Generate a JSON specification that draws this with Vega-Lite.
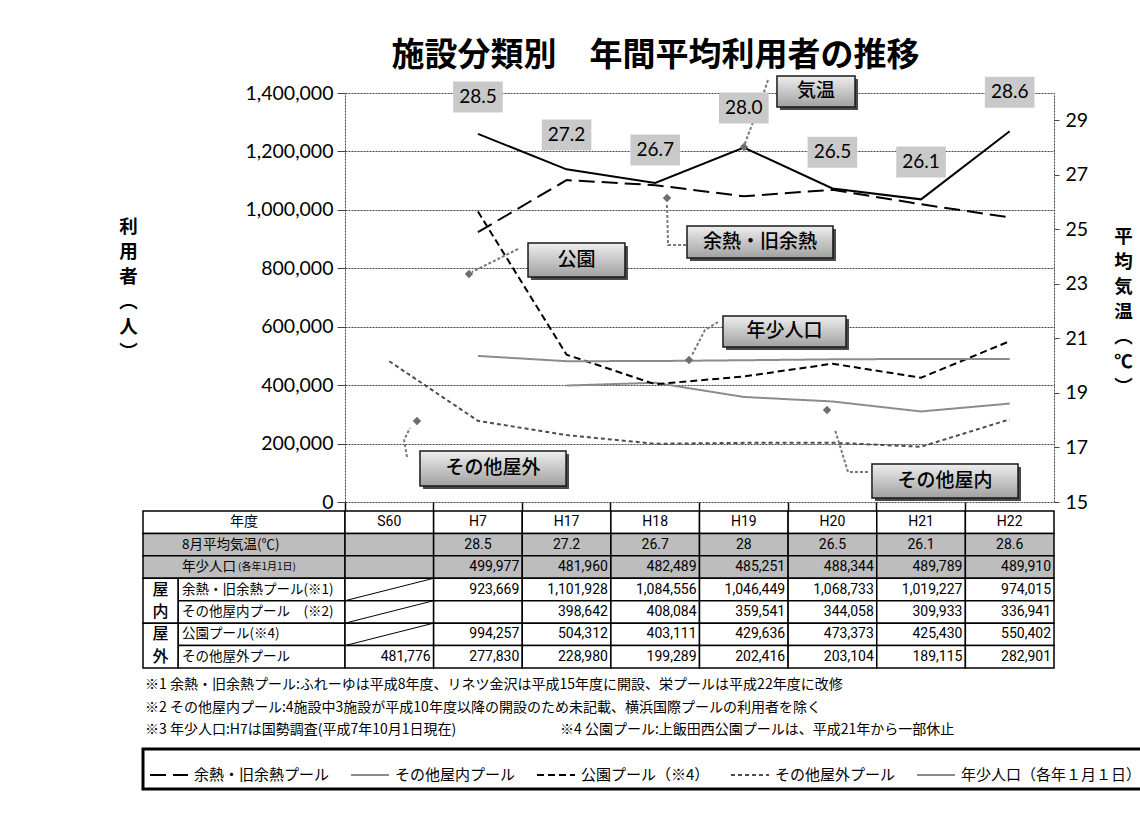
{
"$schema":"https://vega.github.io/schema/vega-lite/v6.json",
"autosize":{"type":"none"},
"padding":{"left":345,"top":93,"right":795,"bottom":727},
"background":"white",
"bounds":"flush",
"spacing":9,
"config":{"view":{"stroke":null},"font":"Noto Sans CJK JP"},
"datasets":{
"series":[
{"series":"余熱・旧余熱プール","year":"H7","value":923669},
{"series":"余熱・旧余熱プール","year":"H17","value":1101928},
{"series":"余熱・旧余熱プール","year":"H18","value":1084556},
{"series":"余熱・旧余熱プール","year":"H19","value":1046449},
{"series":"余熱・旧余熱プール","year":"H20","value":1068733},
{"series":"余熱・旧余熱プール","year":"H21","value":1019227},
{"series":"余熱・旧余熱プール","year":"H22","value":974015},
{"series":"その他屋内プール","year":"H17","value":398642},
{"series":"その他屋内プール","year":"H18","value":408084},
{"series":"その他屋内プール","year":"H19","value":359541},
{"series":"その他屋内プール","year":"H20","value":344058},
{"series":"その他屋内プール","year":"H21","value":309933},
{"series":"その他屋内プール","year":"H22","value":336941},
{"series":"公園プール（※4）","year":"H7","value":994257},
{"series":"公園プール（※4）","year":"H17","value":504312},
{"series":"公園プール（※4）","year":"H18","value":403111},
{"series":"公園プール（※4）","year":"H19","value":429636},
{"series":"公園プール（※4）","year":"H20","value":473373},
{"series":"公園プール（※4）","year":"H21","value":425430},
{"series":"公園プール（※4）","year":"H22","value":550402},
{"series":"その他屋外プール","year":"S60","value":481776},
{"series":"その他屋外プール","year":"H7","value":277830},
{"series":"その他屋外プール","year":"H17","value":228980},
{"series":"その他屋外プール","year":"H18","value":199289},
{"series":"その他屋外プール","year":"H19","value":202416},
{"series":"その他屋外プール","year":"H20","value":203104},
{"series":"その他屋外プール","year":"H21","value":189115},
{"series":"その他屋外プール","year":"H22","value":282901},
{"series":"年少人口（各年１月１日）","year":"H7","value":499977},
{"series":"年少人口（各年１月１日）","year":"H17","value":481960},
{"series":"年少人口（各年１月１日）","year":"H18","value":482489},
{"series":"年少人口（各年１月１日）","year":"H19","value":485251},
{"series":"年少人口（各年１月１日）","year":"H20","value":488344},
{"series":"年少人口（各年１月１日）","year":"H21","value":489789},
{"series":"年少人口（各年１月１日）","year":"H22","value":489910}
],
"temp":[
{"year":"H7","temp":28.5},{"year":"H17","temp":27.2},{"year":"H18","temp":26.7},{"year":"H19","temp":28.0},{"year":"H20","temp":26.5},{"year":"H21","temp":26.1},{"year":"H22","temp":28.6}
],
"templabels":[
{"year":"H7","ly":29.85,"text":"28.5"},
{"year":"H17","ly":28.46,"text":"27.2"},
{"year":"H18","ly":27.91,"text":"26.7"},
{"year":"H19","ly":29.45,"text":"28.0"},
{"year":"H20","ly":27.83,"text":"26.5"},
{"year":"H21","ly":27.47,"text":"26.1"},
{"year":"H22","ly":30.03,"text":"28.6"}
],
"callouts":[
{"label":"気温","u1":4.874,"u2":5.755,"v1":1352085,"v2":1458198,"u":5.314,"v":1405141},
{"label":"余熱・旧余熱","u1":3.859,"u2":5.506,"v1":835212,"v2":944748,"u":4.683,"v":889980},
{"label":"公園","u1":2.065,"u2":3.159,"v1":770175,"v2":886557,"u":2.612,"v":828366},
{"label":"年少人口","u1":4.265,"u2":5.653,"v1":530565,"v2":636678,"u":4.959,"v":583622},
{"label":"その他屋外","u1":0.846,"u2":2.494,"v1":54768,"v2":174573,"u":1.670,"v":114670},
{"label":"その他屋内","u1":5.946,"u2":7.594,"v1":13692,"v2":130074,"u":6.770,"v":71883}
],
"arrows":[
{"arrow":"気温","i":0,"u":4.773,"v":1444500},
{"arrow":"気温","i":1,"u":4.660,"v":1341800},
{"arrow":"気温","i":2,"u":4.570,"v":1273400},
{"arrow":"気温","i":3,"u":4.502,"v":1218600},
{"arrow":"余熱","i":0,"u":3.848,"v":879700},
{"arrow":"余熱","i":1,"u":3.645,"v":879700},
{"arrow":"余熱","i":2,"u":3.633,"v":1016600},
{"arrow":"公園","i":0,"u":1.952,"v":866000},
{"arrow":"公園","i":1,"u":1.433,"v":787300},
{"arrow":"年少人口","i":0,"u":4.209,"v":616100},
{"arrow":"年少人口","i":1,"u":4.062,"v":588800},
{"arrow":"年少人口","i":2,"u":3.915,"v":503200},
{"arrow":"屋外","i":0,"u":0.700,"v":154000},
{"arrow":"屋外","i":1,"u":0.666,"v":212200},
{"arrow":"屋外","i":2,"u":0.733,"v":253300},
{"arrow":"屋内","i":0,"u":5.901,"v":102700},
{"arrow":"屋内","i":1,"u":5.676,"v":102700},
{"arrow":"屋内","i":2,"u":5.529,"v":246500}
],
"heads":[
{"arrow":"気温","u":4.502,"v":1215000},
{"arrow":"余熱","u":3.633,"v":1040600},
{"arrow":"公園","u":1.399,"v":780400},
{"arrow":"年少人口","u":3.882,"v":486100},
{"arrow":"屋外","u":0.812,"v":277300},
{"arrow":"屋内","u":5.439,"v":314900}
],
"table":[
{"row":"年度","year":"S60","text":"S60"},{"row":"年度","year":"H7","text":"H7"},{"row":"年度","year":"H17","text":"H17"},{"row":"年度","year":"H18","text":"H18"},{"row":"年度","year":"H19","text":"H19"},{"row":"年度","year":"H20","text":"H20"},{"row":"年度","year":"H21","text":"H21"},{"row":"年度","year":"H22","text":"H22"},
{"row":"気温","year":"S60","text":""},{"row":"気温","year":"H7","text":"28.5"},{"row":"気温","year":"H17","text":"27.2"},{"row":"気温","year":"H18","text":"26.7"},{"row":"気温","year":"H19","text":"28"},{"row":"気温","year":"H20","text":"26.5"},{"row":"気温","year":"H21","text":"26.1"},{"row":"気温","year":"H22","text":"28.6"},
{"row":"人口","year":"S60","text":""},{"row":"人口","year":"H7","text":"499,977"},{"row":"人口","year":"H17","text":"481,960"},{"row":"人口","year":"H18","text":"482,489"},{"row":"人口","year":"H19","text":"485,251"},{"row":"人口","year":"H20","text":"488,344"},{"row":"人口","year":"H21","text":"489,789"},{"row":"人口","year":"H22","text":"489,910"},
{"row":"余熱","year":"S60","text":""},{"row":"余熱","year":"H7","text":"923,669"},{"row":"余熱","year":"H17","text":"1,101,928"},{"row":"余熱","year":"H18","text":"1,084,556"},{"row":"余熱","year":"H19","text":"1,046,449"},{"row":"余熱","year":"H20","text":"1,068,733"},{"row":"余熱","year":"H21","text":"1,019,227"},{"row":"余熱","year":"H22","text":"974,015"},
{"row":"屋内","year":"S60","text":""},{"row":"屋内","year":"H7","text":""},{"row":"屋内","year":"H17","text":"398,642"},{"row":"屋内","year":"H18","text":"408,084"},{"row":"屋内","year":"H19","text":"359,541"},{"row":"屋内","year":"H20","text":"344,058"},{"row":"屋内","year":"H21","text":"309,933"},{"row":"屋内","year":"H22","text":"336,941"},
{"row":"公園","year":"S60","text":""},{"row":"公園","year":"H7","text":"994,257"},{"row":"公園","year":"H17","text":"504,312"},{"row":"公園","year":"H18","text":"403,111"},{"row":"公園","year":"H19","text":"429,636"},{"row":"公園","year":"H20","text":"473,373"},{"row":"公園","year":"H21","text":"425,430"},{"row":"公園","year":"H22","text":"550,402"},
{"row":"屋外","year":"S60","text":"481,776"},{"row":"屋外","year":"H7","text":"277,830"},{"row":"屋外","year":"H17","text":"228,980"},{"row":"屋外","year":"H18","text":"199,289"},{"row":"屋外","year":"H19","text":"202,416"},{"row":"屋外","year":"H20","text":"203,104"},{"row":"屋外","year":"H21","text":"189,115"},{"row":"屋外","year":"H22","text":"282,901"}
],
"rowlabels":[
{"row":"年度","label":"年度"},
{"row":"気温","label":"8月平均気温(℃)"},
{"row":"人口","label":"年少人口","sub":"(各年1月1日)"},
{"row":"余熱","label":"余熱・旧余熱プール(※1)"},
{"row":"屋内","label":"その他屋内プール　(※2)"},
{"row":"公園","label":"公園プール(※4)"},
{"row":"屋外","label":"その他屋外プール"}
],
"groups":[
{"grp":"屋内","text":"屋\n内"},
{"grp":"屋外","text":"屋\n外"}
],
"notes":[
{"line":1,"part":"a","text":"※1  余熱・旧余熱プール:ふれーゆは平成8年度、リネツ金沢は平成15年度に開設、栄プールは平成22年度に改修"},
{"line":2,"part":"a","text":"※2  その他屋内プール:4施設中3施設が平成10年度以降の開設のため未記載、横浜国際プールの利用者を除く"},
{"line":3,"part":"a","text":"※3  年少人口:H7は国勢調査(平成7年10月1日現在)"},
{"line":3,"part":"b","text":"※4  公園プール:上飯田西公園プールは、平成21年から一部休止"}
]
},
"vconcat":[
{
"width":709,"height":409,
"title":{"text":"施設分類別　年間平均利用者の推移","font":"Noto Sans CJK JP","fontSize":33,"fontWeight":"bold","color":"black","anchor":"middle","frame":"group","dx":-44,"offset":2},
"layer":[
{"data":{"name":"series"},
 "mark":{"type":"line","strokeWidth":2},
 "encoding":{
  "x":{"field":"year","type":"nominal","scale":{"type":"band","domain":["S60","H7","H17","H18","H19","H20","H21","H22"],"paddingInner":0,"paddingOuter":0},
       "axis":{"orient":"bottom","bandPosition":0,"labels":false,"domain":false,"ticks":true,"tickSize":9,"tickColor":"black","tickWidth":1.5,"title":null,"grid":false}},
  "y":{"field":"value","type":"quantitative","scale":{"domain":[0,1400000],"nice":false,"zero":true},
       "axis":{"orient":"left","values":[0,200000,400000,600000,800000,1000000,1200000,1400000],"format":",.0f","labelFont":"Lato","labelFontSize":19.5,"labelColor":"black","labelPadding":4,"tickSize":8,"tickColor":"#444","domainColor":"#444","domainDash":[2,1],"grid":true,"gridColor":"#444","gridDash":[2,1],"gridWidth":1.2,
               "title":["利","用","者","︵","人","︶"],"titleAngle":0,"titleFont":"Noto Sans CJK JP","titleFontSize":18.5,"titleFontWeight":"bold","titleColor":"black","titleAlign":"center","titleBaseline":"top","titleX":-217,"titleY":124,"titleLineHeight":25}},
  "color":{"field":"series","type":"nominal","scale":{"domain":["余熱・旧余熱プール","その他屋内プール","公園プール（※4）","その他屋外プール","年少人口（各年１月１日）"],"range":["#000000","#8c8c8c","#000000","#4d4d4d","#8c8c8c"]},
       "legend":{"orient":"none","legendX":-202,"legendY":656,"direction":"horizontal","title":null,"symbolType":"stroke","symbolSize":1444,"symbolStrokeWidth":2,"labelFont":"Noto Sans CJK JP","labelFontSize":15,"labelColor":"black","labelLimit":400,"padding":6,"strokeColor":"black","columnPadding":17,"labelOffset":5,"encode":{"legend":{"update":{"strokeWidth":{"value":3}}}}}},
  "strokeDash":{"field":"series","type":"nominal","scale":{"domain":["余熱・旧余熱プール","その他屋内プール","公園プール（※4）","その他屋外プール","年少人口（各年１月１日）"],"range":[[16,7],[1,0],[7,4],[4,3],[1,0]]},
       "legend":{"orient":"none","legendX":-202,"legendY":656,"direction":"horizontal","title":null,"symbolType":"stroke","symbolSize":1444,"symbolStrokeWidth":2,"labelFont":"Noto Sans CJK JP","labelFontSize":15,"labelColor":"black","labelLimit":400,"padding":6,"strokeColor":"black","columnPadding":17,"labelOffset":5,"encode":{"legend":{"update":{"strokeWidth":{"value":3}}}}}},
  "order":{"value":null}
 }},
{"data":{"name":"temp"},
 "mark":{"type":"line","color":"black","strokeWidth":2},
 "encoding":{
  "x":{"field":"year","type":"nominal","scale":{"type":"band","domain":["S60","H7","H17","H18","H19","H20","H21","H22"],"paddingInner":0,"paddingOuter":0},"axis":null},
  "y":{"field":"temp","type":"quantitative","scale":{"domain":[15,30],"nice":false,"zero":false},
       "axis":{"orient":"right","values":[15,17,19,21,23,25,27,29],"labelFont":"Lato","labelFontSize":19.5,"labelColor":"black","labelPadding":6,"tickSize":5,"tickColor":"#444","domainColor":"#444","domainDash":[2,1],"grid":false,
               "title":["平","均","気","温","︵","℃","︶"],"titleAngle":0,"titleFont":"Noto Sans CJK JP","titleFontSize":18.5,"titleFontWeight":"bold","titleColor":"black","titleAlign":"center","titleBaseline":"top","titleX":69,"titleY":134,"titleLineHeight":25}},
  "order":{"value":null}
 }},
{"data":{"name":"arrows"},
 "mark":{"type":"line","stroke":"#7a7a7a","strokeWidth":2,"strokeDash":[3,2]},
 "encoding":{
  "x":{"field":"u","type":"quantitative","scale":{"domain":[0,8],"nice":false,"zero":false},"axis":null},
  "y":{"field":"v","type":"quantitative","scale":{"domain":[0,1400000],"nice":false},"axis":null},
  "detail":{"field":"arrow"},
  "order":{"field":"i"}
 }},
{"data":{"name":"heads"},
 "mark":{"type":"point","shape":"diamond","size":70,"filled":true,"color":"#6e6e6e","opacity":1},
 "encoding":{
  "x":{"field":"u","type":"quantitative","scale":{"domain":[0,8],"nice":false,"zero":false},"axis":null},
  "y":{"field":"v","type":"quantitative","scale":{"domain":[0,1400000],"nice":false},"axis":null}
 }},
{"data":{"name":"callouts"},
 "mark":{"type":"rect","fill":"#4a4a4a","xOffset":3,"yOffset":3,"x2Offset":3,"y2Offset":3},
 "encoding":{
  "x":{"field":"u1","type":"quantitative","scale":{"domain":[0,8],"nice":false,"zero":false},"axis":null},"x2":{"field":"u2"},
  "y":{"field":"v1","type":"quantitative","scale":{"domain":[0,1400000],"nice":false},"axis":null},"y2":{"field":"v2"}
 }},
{"data":{"name":"callouts"},
 "mark":{"type":"rect","stroke":"#1a1a1a","strokeWidth":1.5,"fill":{"gradient":"linear","x1":0,"y1":0,"x2":0,"y2":1,"stops":[{"offset":0,"color":"#eeeeee"},{"offset":1,"color":"#a0a0a0"}]}},
 "encoding":{
  "x":{"field":"u1","type":"quantitative","scale":{"domain":[0,8],"nice":false,"zero":false},"axis":null},"x2":{"field":"u2"},
  "y":{"field":"v1","type":"quantitative","scale":{"domain":[0,1400000],"nice":false},"axis":null},"y2":{"field":"v2"}
 }},
{"data":{"name":"callouts"},
 "mark":{"type":"text","font":"Noto Sans CJK JP","fontSize":19,"fontWeight":500,"color":"black","align":"center","baseline":"middle"},
 "encoding":{
  "x":{"field":"u","type":"quantitative","scale":{"domain":[0,8],"nice":false,"zero":false},"axis":null},
  "y":{"field":"v","type":"quantitative","scale":{"domain":[0,1400000],"nice":false},"axis":null},
  "text":{"field":"label"}
 }},
{"data":{"name":"templabels"},
 "mark":{"type":"point","shape":"M-1.6,-1H1.6V1H-1.6Z","size":961,"filled":true,"color":"#c9c9c9","opacity":1,"strokeWidth":0},
 "encoding":{
  "x":{"field":"year","type":"nominal","scale":{"type":"band","domain":["S60","H7","H17","H18","H19","H20","H21","H22"],"paddingInner":0,"paddingOuter":0},"axis":null},
  "y":{"field":"ly","type":"quantitative","scale":{"domain":[15,30],"nice":false,"zero":false},"axis":null}
 }},
{"data":{"name":"templabels"},
 "mark":{"type":"text","font":"Lato","fontSize":19,"color":"black","align":"center","baseline":"middle"},
 "encoding":{
  "x":{"field":"year","type":"nominal","scale":{"type":"band","domain":["S60","H7","H17","H18","H19","H20","H21","H22"],"paddingInner":0,"paddingOuter":0},"axis":null},
  "y":{"field":"ly","type":"quantitative","scale":{"domain":[15,30],"nice":false,"zero":false},"axis":null},
  "text":{"field":"text"}
 }}
],
"resolve":{"scale":{"x":"independent","y":"independent"}}
},
{
"width":709,"height":157,
"layer":[
{"data":{"name":"rowlabels"},"transform":[{"filter":"datum.row==='年度'||datum.row==='気温'||datum.row==='人口'"}],
 "mark":{"type":"rect","stroke":"black","strokeWidth":1.5},
 "encoding":{
  "x":{"datum":"label","type":"nominal","scale":{"type":"band","domain":["label"],"range":[-202,0],"paddingInner":0,"paddingOuter":0},"axis":null},
  "y":{"field":"row","type":"nominal","scale":{"type":"band","domain":["年度","気温","人口","余熱","屋内","公園","屋外"],"paddingInner":0,"paddingOuter":0},"axis":null},
  "fill":{"condition":{"test":"datum.row==='気温'||datum.row==='人口'","value":"#bdbdbd"},"value":"white"}
 }},
{"data":{"name":"rowlabels"},"transform":[{"filter":"datum.row==='余熱'||datum.row==='屋内'||datum.row==='公園'||datum.row==='屋外'"}],
 "mark":{"type":"rect","stroke":"black","strokeWidth":1.5,"fill":"white"},
 "encoding":{
  "x":{"datum":"name","type":"nominal","scale":{"type":"band","domain":["name"],"range":[-167,0],"paddingInner":0,"paddingOuter":0},"axis":null},
  "y":{"field":"row","type":"nominal","scale":{"type":"band","domain":["年度","気温","人口","余熱","屋内","公園","屋外"],"paddingInner":0,"paddingOuter":0},"axis":null}
 }},
{"data":{"name":"table"},
 "mark":{"type":"rect","stroke":"black","strokeWidth":1.5},
 "encoding":{
  "x":{"field":"year","type":"nominal","scale":{"type":"band","domain":["S60","H7","H17","H18","H19","H20","H21","H22"],"paddingInner":0,"paddingOuter":0},"axis":null},
  "y":{"field":"row","type":"nominal","scale":{"type":"band","domain":["年度","気温","人口","余熱","屋内","公園","屋外"],"paddingInner":0,"paddingOuter":0},"axis":null},
  "fill":{"condition":{"test":"datum.row==='気温'||datum.row==='人口'","value":"#bdbdbd"},"value":"white"}
 }},
{"data":{"name":"table"},"transform":[{"filter":"datum.year==='S60'&&(datum.row==='余熱'||datum.row==='屋内'||datum.row==='公園')"}],
 "mark":{"type":"rule","color":"black","strokeWidth":1},
 "encoding":{
  "x":{"field":"year","type":"nominal","bandPosition":0,"scale":{"type":"band","domain":["S60","H7","H17","H18","H19","H20","H21","H22"],"paddingInner":0,"paddingOuter":0},"axis":null},
  "x2":{"field":"year","bandPosition":1},
  "y":{"field":"row","type":"nominal","bandPosition":1,"scale":{"type":"band","domain":["年度","気温","人口","余熱","屋内","公園","屋外"],"paddingInner":0,"paddingOuter":0},"axis":null},
  "y2":{"field":"row","bandPosition":0}
 }},
{"data":{"name":"table"},"transform":[{"filter":"datum.row==='年度'||datum.row==='気温'"}],
 "mark":{"type":"text","font":"Roboto","fontSize":14,"color":"black","align":"center","baseline":"middle"},
 "encoding":{
  "x":{"field":"year","type":"nominal","scale":{"type":"band","domain":["S60","H7","H17","H18","H19","H20","H21","H22"],"paddingInner":0,"paddingOuter":0},"axis":null},
  "y":{"field":"row","type":"nominal","scale":{"type":"band","domain":["年度","気温","人口","余熱","屋内","公園","屋外"],"paddingInner":0,"paddingOuter":0},"axis":null},
  "text":{"field":"text"}
 }},
{"data":{"name":"table"},"transform":[{"filter":"datum.row!=='年度'&&datum.row!=='気温'"}],
 "mark":{"type":"text","font":"Roboto","fontSize":14,"color":"black","align":"right","baseline":"middle","dx":-3},
 "encoding":{
  "x":{"field":"year","type":"nominal","bandPosition":1,"scale":{"type":"band","domain":["S60","H7","H17","H18","H19","H20","H21","H22"],"paddingInner":0,"paddingOuter":0},"axis":null},
  "y":{"field":"row","type":"nominal","scale":{"type":"band","domain":["年度","気温","人口","余熱","屋内","公園","屋外"],"paddingInner":0,"paddingOuter":0},"axis":null},
  "text":{"field":"text"}
 }},
{"data":{"name":"groups"},
 "mark":{"type":"rect","stroke":"black","strokeWidth":1.5,"fill":"white"},
 "encoding":{
  "x":{"datum":"grp","type":"nominal","scale":{"type":"band","domain":["grp"],"range":[-202,-167],"paddingInner":0,"paddingOuter":0},"axis":null},
  "y":{"field":"grp","type":"nominal","scale":{"type":"band","domain":["屋内","屋外"],"range":[67.286,157],"paddingInner":0,"paddingOuter":0},"axis":null}
 }},
{"data":{"name":"groups"},
 "mark":{"type":"text","font":"Noto Sans CJK JP","fontSize":16,"fontWeight":500,"color":"black","align":"center","baseline":"middle","lineBreak":"\n","lineHeight":22.4,"dy":-11.2},
 "encoding":{
  "x":{"datum":"grp","type":"nominal","scale":{"type":"band","domain":["grp"],"range":[-202,-167],"paddingInner":0,"paddingOuter":0},"axis":null},
  "y":{"field":"grp","type":"nominal","scale":{"type":"band","domain":["屋内","屋外"],"range":[67.286,157],"paddingInner":0,"paddingOuter":0},"axis":null},
  "text":{"field":"text"}
 }},
{"data":{"name":"rowlabels"},"transform":[{"filter":"datum.row==='年度'"}],
 "mark":{"type":"text","font":"Noto Sans CJK JP","fontSize":14,"color":"black","align":"center","baseline":"middle"},
 "encoding":{
  "x":{"datum":"label","type":"nominal","scale":{"type":"band","domain":["label"],"range":[-202,0],"paddingInner":0,"paddingOuter":0},"axis":null},
  "y":{"field":"row","type":"nominal","scale":{"type":"band","domain":["年度","気温","人口","余熱","屋内","公園","屋外"],"paddingInner":0,"paddingOuter":0},"axis":null},
  "text":{"field":"label"}
 }},
{"data":{"name":"rowlabels"},"transform":[{"filter":"datum.row!=='年度'"}],
 "mark":{"type":"text","font":"Noto Sans CJK JP","fontSize":13.5,"color":"black","align":"left","baseline":"middle","dx":4},
 "encoding":{
  "x":{"datum":"name","type":"nominal","bandPosition":0,"scale":{"type":"band","domain":["name"],"range":[-167,0],"paddingInner":0,"paddingOuter":0},"axis":null},
  "y":{"field":"row","type":"nominal","scale":{"type":"band","domain":["年度","気温","人口","余熱","屋内","公園","屋外"],"paddingInner":0,"paddingOuter":0},"axis":null},
  "text":{"field":"label"}
 }},
{"data":{"name":"rowlabels"},"transform":[{"filter":"datum.sub"}],
 "mark":{"type":"text","font":"Noto Sans CJK JP","fontSize":10,"color":"black","align":"left","baseline":"middle","dx":60},
 "encoding":{
  "x":{"datum":"name","type":"nominal","bandPosition":0,"scale":{"type":"band","domain":["name"],"range":[-167,0],"paddingInner":0,"paddingOuter":0},"axis":null},
  "y":{"field":"row","type":"nominal","scale":{"type":"band","domain":["年度","気温","人口","余熱","屋内","公園","屋外"],"paddingInner":0,"paddingOuter":0},"axis":null},
  "text":{"field":"sub"}
 }}
],
"resolve":{"scale":{"x":"independent","y":"independent"}}
},
{
"width":709,"height":67,
"data":{"name":"notes"},
"mark":{"type":"text","font":"Noto Sans CJK JP","fontSize":14,"color":"black","align":"left","baseline":"middle","dy":-3},
"encoding":{
 "x":{"field":"part","type":"nominal","bandPosition":0,"scale":{"type":"band","domain":["a","b"],"range":[-200,630],"paddingInner":0,"paddingOuter":0},"axis":null},
 "y":{"field":"line","type":"ordinal","scale":{"type":"band","domain":[1,2,3],"paddingInner":0,"paddingOuter":0},"axis":null},
 "text":{"field":"text"}
}
}
]
}
